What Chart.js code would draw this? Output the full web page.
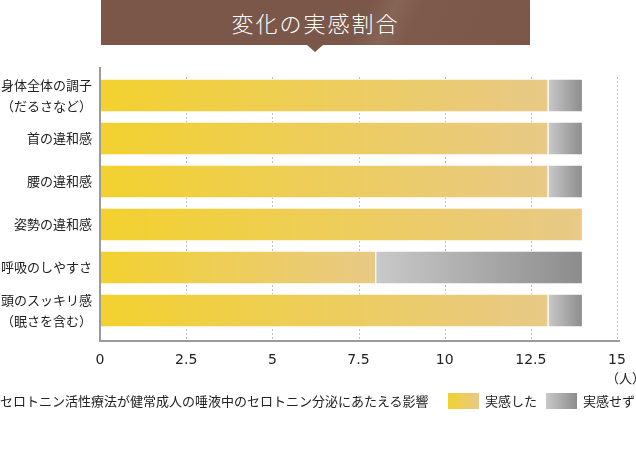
<!DOCTYPE html>
<html lang="ja">
<head>
    <meta charset="UTF-8">
    <title>変化の実感割合</title>
    <script src="https://cdn.jsdelivr.net/npm/chart.js"></script>
    <style>
        body {
            margin: 0;
            background: #fff;
            font-family: "Noto Sans CJK JP", sans-serif;
            color: #222;
        }
        .wrap {
            position: relative;
            width: 636px;
            height: 451px;
        }
        .banner {
            position: absolute;
            left: 101px;
            top: 0;
            width: 429px;
            height: 45px;
            background: linear-gradient(115deg, #7a5749 0%, #7a5749 60%, #866456 66%, #7d5a4c 72%, #7a5749 100%);
            color: #fff;
            font-size: 22px;
            letter-spacing: 2px;
            line-height: 45px;
            text-align: center;
            font-weight: 300;
        }
        .banner:after {
            content: "";
            position: absolute;
            left: 206px;
            top: 45px;
            border-left: 8px solid transparent;
            border-right: 8px solid transparent;
            border-top: 7px solid #7a5749;
        }
        .unit {
            position: absolute;
            left: 606px;
            top: 368px;
            font-size: 13px;
        }
        .caption {
            position: absolute;
            left: 0;
            top: 391px;
            font-size: 13px;
            white-space: nowrap;
        }
        .legend {
            position: absolute;
            top: 391px;
            font-size: 13px;
            white-space: nowrap;
        }
        .legend span {
            display: inline-block;
            width: 31px;
            height: 16px;
            vertical-align: -3px;
            margin-right: 6px;
        }
        canvas {
            position: absolute;
            left: 0;
            top: 0;
        }
    </style>
</head>
<body>
    <div class="wrap">
        <canvas id="changeChart" width="636" height="451"></canvas>
        <div class="banner">変化の実感割合</div>
        <div class="unit">（人）</div>
        <div class="caption">セロトニン活性療法が健常成人の唾液中のセロトニン分泌にあたえる影響</div>
        <div class="legend" style="left:448px"><span style="background:linear-gradient(90deg,#f2d12f,#e8c987)"></span>実感した</div>
        <div class="legend" style="left:546px"><span style="background:linear-gradient(90deg,#c9c9c9,#8c8c8c)"></span>実感せず</div>
    </div>

    <script>
        const categories = [
            ['身体全体の調子', '（だるさなど）'],
            '首の違和感',
            '腰の違和感',
            '姿勢の違和感',
            '呼吸のしやすさ',
            ['頭のスッキリ感', '（眠さを含む）']
        ];
        const felt = [13, 13, 13, 14, 8, 13];      // 実感した
        const notFelt = [1, 1, 1, 0, 6, 1];        // 実感せず
        const xTicks = [0, 2.5, 5, 7.5, 10, 12.5, 15];

        // gradient for each bar piece, from its start value to its end value
        function barGradient(ctx, from, to, c0, c1) {
            const chart = ctx.chart;
            const x = chart.scales.x;
            if (ctx.type !== 'data' || !chart.chartArea || !x) return c0;
            const i = ctx.dataIndex;
            const x0 = x.getPixelForValue(from[i]);
            const x1 = x.getPixelForValue(to[i]);
            const g = chart.ctx.createLinearGradient(x0, 0, Math.max(x1, x0 + 1), 0);
            g.addColorStop(0, c0);
            g.addColorStop(1, c1);
            return g;
        }

        const zeros = felt.map(() => 0);
        const feltEnd = felt;
        const notFeltEnd = felt.map((v, i) => v + notFelt[i]);

        // dotted grid and the two axis lines
        const axisLines = {
            id: 'axisLines',
            beforeDatasetsDraw(chart) {
                const c = chart.ctx;
                const x = chart.scales.x;
                c.save();
                c.strokeStyle = '#bdbdbd';
                c.lineWidth = 1;
                c.setLineDash([2, 2]);
                xTicks.forEach(t => {
                    if (t === 0) return;
                    const px = Math.round(x.getPixelForValue(t)) + 0.5;
                    c.beginPath();
                    c.moveTo(px, 77);
                    c.lineTo(px, 340);
                    c.stroke();
                });
                c.restore();
            },
            afterDatasetsDraw(chart) {
                const c = chart.ctx;
                const x = chart.scales.x;
                const left = x.getPixelForValue(0);
                c.save();
                c.strokeStyle = '#9a9a9a';
                c.lineWidth = 2;
                c.beginPath();
                c.moveTo(left, 67);
                c.lineTo(left, 341);
                c.lineTo(x.getPixelForValue(15) + 3, 341);
                c.stroke();
                c.restore();
            }
        };

        new Chart(document.getElementById('changeChart'), {
            type: 'bar',
            data: {
                labels: categories,
                datasets: [{
                    label: '実感した',
                    data: felt,
                    backgroundColor: ctx => barGradient(ctx, zeros, feltEnd, '#f2d12f', '#e8c987'),
                    borderColor: 'rgba(255, 255, 255, 0.85)',
                    borderWidth: 1,
                    borderSkipped: false,
                    barThickness: 33
                }, {
                    label: '実感せず',
                    data: notFelt,
                    backgroundColor: ctx => barGradient(ctx, feltEnd, notFeltEnd, '#c9c9c9', '#8c8c8c'),
                    borderColor: 'rgba(255, 255, 255, 0.85)',
                    borderWidth: 1,
                    borderSkipped: false,
                    barThickness: 33
                }]
            },
            options: {
                indexAxis: 'y',
                responsive: false,
                animation: false,
                layout: {
                    padding: { top: 74, right: 0, left: 0, bottom: 0 }
                },
                plugins: {
                    legend: { display: false },
                    tooltip: { enabled: false }
                },
                scales: {
                    x: {
                        stacked: true,
                        min: 0,
                        max: 15,
                        afterBuildTicks: scale => {
                            scale.ticks = xTicks.map(v => ({ value: v }));
                        },
                        afterFit: scale => {
                            scale.height = 119;
                            scale.paddingLeft = 0;
                            scale.paddingRight = 19;
                        },
                        grid: { display: false, drawTicks: false },
                        border: { display: false },
                        ticks: {
                            padding: 20,
                            color: '#222',
                            font: { family: 'DejaVu Sans', size: 14 },
                            callback: v => String(v)
                        }
                    },
                    y: {
                        stacked: true,
                        afterFit: scale => { scale.width = 100; },
                        grid: { display: false, drawTicks: false },
                        border: { display: false },
                        ticks: {
                            autoSkip: false,
                            padding: 8,
                            color: '#222',
                            font: { family: 'Noto Sans CJK JP', size: 13, lineHeight: 1.55 }
                        }
                    }
                }
            },
            plugins: [axisLines]
        });
    </script>
</body>
</html>
